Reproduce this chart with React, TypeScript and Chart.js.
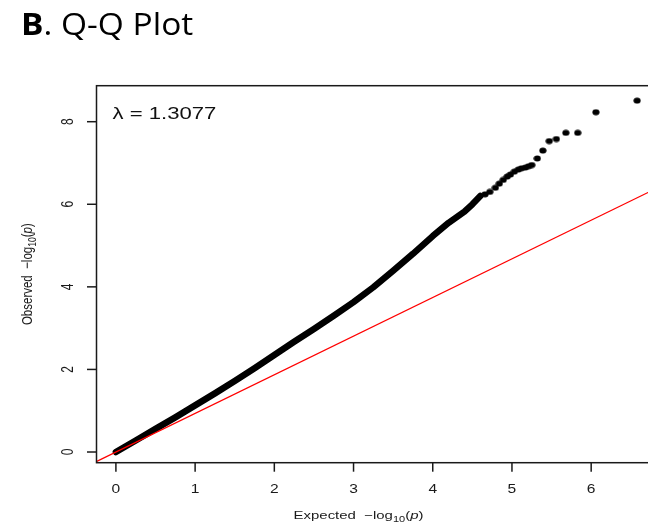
import { useEffect, useRef } from "react";
import { Chart, registerables } from "chart.js";

Chart.register(...registerables);

// Dense part of the observed quantiles (drawn as a thick band of overlapping points)
const expectedBand = [0, 0.25, 0.5, 0.75, 1.0, 1.25, 1.5, 1.75, 2.0, 2.25, 2.5, 2.75, 3.0, 3.25, 3.5, 3.75, 4.0, 4.2, 4.4, 4.5, 4.6];
const observedBand = [0, 0.28, 0.56, 0.84, 1.13, 1.42, 1.72, 2.03, 2.35, 2.67, 2.98, 3.3, 3.63, 3.99, 4.39, 4.8, 5.23, 5.55, 5.82, 6.0, 6.2];

// Sparse upper tail, individual SNPs
const expectedTail = [4.66, 4.72, 4.79, 4.84, 4.89, 4.94, 4.98, 5.03, 5.08, 5.12, 5.17, 5.21, 5.25, 5.32, 5.39, 5.47, 5.56, 5.68, 5.83, 6.06, 6.58];
const observedTail = [6.24, 6.3, 6.4, 6.5, 6.59, 6.67, 6.72, 6.79, 6.84, 6.87, 6.89, 6.92, 6.95, 7.11, 7.3, 7.53, 7.58, 7.73, 7.73, 8.23, 8.51];

// Reference line endpoints
const refX = [-0.3, 7.0];
const refY = [-0.28, 6.55];

const xTicks = [0, 1, 2, 3, 4, 5, 6];
const yTicks = [0, 2, 4, 6, 8];
const lambdaLabel = "λ = 1.3077";

const CANVAS_W = 680;
const CANVAS_H = 524;
const SX = 1.3; // horizontal stretch of the plot lettering
const RFONT = '"Liberation Sans", Arial, Helvetica, sans-serif';

type Part = { text: string; size: number; style?: string; dy?: number };

const axisParts = (word: string): Part[] => [
  { text: word, size: 11.5 },
  { text: "  \u2212", size: 11.5 },
  { text: "log", size: 11.5 },
  { text: "10", size: 8.5, dy: 3 },
  { text: "(", size: 11.5 },
  { text: "p", size: 11.5, style: "italic" },
  { text: ")", size: 11.5 },
];

function partsWidth(ctx: CanvasRenderingContext2D, parts: Part[]) {
  let w = 0;
  for (const p of parts) {
    ctx.font = `${p.style ?? ""} ${p.size}px ${RFONT}`;
    w += ctx.measureText(p.text).width;
  }
  return w;
}

function drawParts(ctx: CanvasRenderingContext2D, parts: Part[]) {
  const total = partsWidth(ctx, parts);
  let x = -total / 2;
  ctx.textAlign = "left";
  ctx.textBaseline = "alphabetic";
  for (const p of parts) {
    ctx.font = `${p.style ?? ""} ${p.size}px ${RFONT}`;
    ctx.fillText(p.text, x, p.dy ?? 0);
    x += ctx.measureText(p.text).width;
  }
}

const qqAxes = {
  id: "qqAxes",
  afterDraw(chart: any) {
    const ctx: CanvasRenderingContext2D = chart.ctx;
    const { left, top, right, bottom } = chart.chartArea;
    const xs = chart.scales.x;
    const ys = chart.scales.y;
    ctx.save();
    ctx.strokeStyle = "#1a1a1a";
    ctx.fillStyle = "#1a1a1a";
    ctx.lineWidth = 1.5;
    ctx.strokeRect(left, top, right - left, bottom - top);

    // x ticks
    for (const v of xTicks) {
      const px = xs.getPixelForValue(v);
      ctx.beginPath();
      ctx.moveTo(px, bottom);
      ctx.lineTo(px, bottom + 9);
      ctx.stroke();
      ctx.save();
      ctx.translate(px, bottom + 30.5);
      ctx.scale(SX, 1);
      ctx.font = `12px ${RFONT}`;
      ctx.textAlign = "center";
      ctx.textBaseline = "alphabetic";
      ctx.fillText(String(v), 0, 0);
      ctx.restore();
    }

    // y ticks
    for (const v of yTicks) {
      const py = ys.getPixelForValue(v);
      ctx.beginPath();
      ctx.moveTo(left - 9.5, py);
      ctx.lineTo(left, py);
      ctx.stroke();
      ctx.save();
      ctx.translate(left - 23.5, py);
      ctx.scale(SX, 1);
      ctx.rotate(-Math.PI / 2);
      ctx.font = `12px ${RFONT}`;
      ctx.textAlign = "center";
      ctx.textBaseline = "alphabetic";
      ctx.fillText(String(v), 0, 0);
      ctx.restore();
    }

    // axis titles
    ctx.save();
    ctx.translate(358.5, bottom + 56.5);
    ctx.scale(SX, 1);
    drawParts(ctx, axisParts("Expected"));
    ctx.restore();

    ctx.save();
    ctx.translate(32, (top + bottom) / 2);
    ctx.scale(SX, 1);
    ctx.rotate(-Math.PI / 2);
    drawParts(ctx, axisParts("Observed"));
    ctx.restore();

    // genomic inflation factor
    ctx.save();
    ctx.translate(left + 16, top + 33);
    ctx.scale(SX, 1);
    ctx.font = `17px ${RFONT}`;
    ctx.fillStyle = "#111";
    ctx.textAlign = "left";
    ctx.fillText(lambdaLabel, 0, 0);
    ctx.restore();

    // panel title
    ctx.save();
    ctx.translate(21, 35);
    ctx.scale(1.08, 1);
    ctx.fillStyle = "#000";
    ctx.textAlign = "left";
    ctx.textBaseline = "alphabetic";
    ctx.font = `bold 31px "Open Sans", sans-serif`;
    ctx.fillText("B", 0, 0);
    const bw = ctx.measureText("B").width;
    ctx.font = `31px "Open Sans", sans-serif`;
    ctx.fillText(". Q-Q Plot", bw, 0);
    ctx.restore();

    ctx.restore();
  },
};

export default function App() {
  const ref = useRef<HTMLCanvasElement>(null);

  useEffect(() => {
    const canvas = ref.current;
    if (!canvas) return;

    const dot = document.createElement("canvas");
    dot.width = 8;
    dot.height = 7;
    const dctx = dot.getContext("2d")!;
    dctx.fillStyle = "#000";
    dctx.beginPath();
    dctx.ellipse(4, 3.5, 3.6, 2.9, 0, 0, Math.PI * 2);
    dctx.fill();

    const chart = new Chart(canvas, {
      type: "scatter",
      data: {
        datasets: [
          {
            data: refX.map((x, i) => ({ x, y: refY[i] })),
            showLine: true,
            borderColor: "#ff0000",
            borderWidth: 1.3,
            pointRadius: 0,
            order: 0,
          },
          {
            data: expectedBand.map((x, i) => ({ x, y: observedBand[i] })),
            showLine: true,
            borderColor: "#000",
            borderWidth: 6.5,
            borderCapStyle: "round",
            borderJoinStyle: "round",
            pointRadius: 0,
            order: 1,
          },
          {
            data: expectedTail.map((x, i) => ({ x, y: observedTail[i] })),
            pointStyle: dot,
            pointRadius: 3,
            backgroundColor: "#000",
            order: 2,
          },
        ],
      },
      options: {
        animation: false,
        responsive: false,
        devicePixelRatio: 1,
        layout: {
          padding: { left: 96.5, top: 85.7, right: CANVAS_W - 658.5, bottom: CANVAS_H - 462.7 },
        },
        scales: {
          x: { type: "linear", min: -0.245, max: 6.85, display: false },
          y: { type: "linear", min: -0.259, max: 8.872, display: false },
        },
        plugins: { legend: { display: false }, tooltip: { enabled: false } },
      },
      plugins: [qqAxes],
    });
    return () => chart.destroy();
  }, []);

  return (
    <div
      style={{
        position: "fixed",
        left: 0,
        top: 0,
        width: 648,
        height: 524,
        overflow: "hidden",
        background: "#fff",
      }}
    >
      <canvas ref={ref} width={CANVAS_W} height={CANVAS_H} style={{ display: "block" }} />
    </div>
  );
}
